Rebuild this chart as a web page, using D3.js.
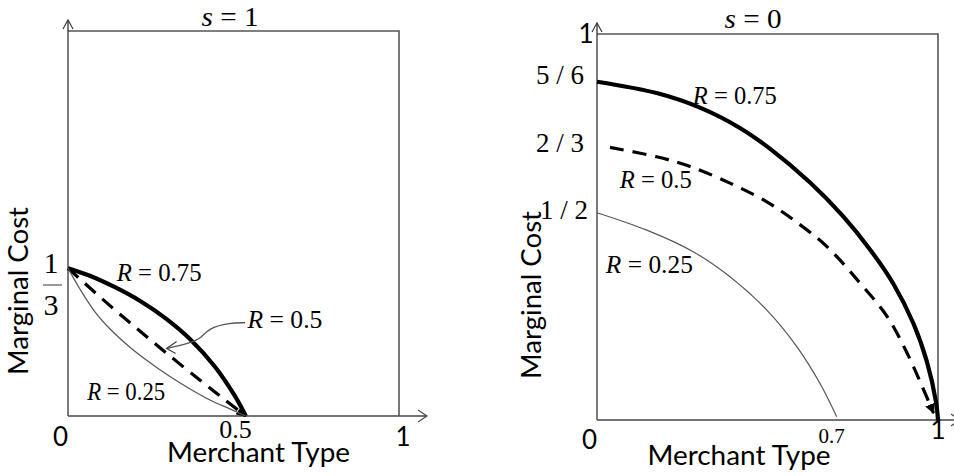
<!DOCTYPE html>
<html>
<head>
<meta charset="utf-8">
<script src="https://cdn.jsdelivr.net/npm/d3@7"></script>
<style>
  html, body { margin: 0; padding: 0; background: #fff; }
  svg { display: block; }
  .sans { font-family: Lato, "Open Sans", "Noto Sans", sans-serif; fill: #000; }
  .serif { font-family: "Liberation Serif", "DejaVu Serif", serif; fill: #000; }
</style>
</head>
<body>
<svg id="chart" width="954" height="476"></svg>
<script>
// ---------------- DATA ----------------
const rValues = ["0.75", "0.5", "0.25"];

// Panel s = 1 : [merchant type, marginal cost]
const left_R075 = [[0,0.333],[0.066,0.316],[0.142,0.290],[0.218,0.259],[0.293,0.221],[0.369,0.173],[0.444,0.111],[0.505,0.044],[0.537,0.0]];
const left_R050 = [[0,0.333],[0.1,0.266],[0.2,0.202],[0.3,0.140],[0.4,0.080],[0.47,0.039],[0.537,0.0]];
const left_R025 = [[0,0.333],[0.036,0.286],[0.082,0.234],[0.127,0.196],[0.187,0.155],[0.248,0.120],[0.308,0.089],[0.369,0.061],[0.429,0.036],[0.489,0.016],[0.537,0.0]];

// Panel s = 0
const right_R075 = [[0,0.834],[0.175,0.806],[0.302,0.770],[0.419,0.720],[0.507,0.669],[0.624,0.586],[0.722,0.502],[0.801,0.420],[0.869,0.336],[0.928,0.238],[0.967,0.145],[0.994,0.045],[1.0,0.0]];
const right_R050 = [[0.038,0.672],[0.175,0.649],[0.273,0.625],[0.390,0.584],[0.498,0.538],[0.577,0.493],[0.675,0.427],[0.772,0.337],[0.851,0.255],[0.910,0.164],[0.958,0.074],[0.987,0.017]];
const right_R025 = [[0,0.511],[0.146,0.468],[0.282,0.415],[0.390,0.353],[0.498,0.271],[0.586,0.181],[0.654,0.090],[0.703,0.008]];

// Tick labels
const leftXTicks = [0, 0.5, 1];
const leftXTickLabels = ["0", "0.5", "1"];
const leftYTick = 1/3;                 // shown as fraction 1 over 3
const rightXTicks = [0, 0.7, 1];
const rightXTickLabels = ["0", "0.7", "1"];
const rightYTicks = [5/6, 2/3, 1/2];
const rightYTickLabels = ["5 / 6", "2 / 3", "1 / 2"];
const titles = ["1", "0"];            // s = 1, s = 0
const xTitle = "Merchant Type";
const yTitle = "Marginal Cost";

// annotation leader (data coords, left panel) for R = 0.5
const leaderPts = [[0.535,0.210],[0.489,0.210],[0.425,0.198],[0.404,0.176],[0.365,0.163],[0.298,0.152]];

// ---------------- DRAW ----------------
const svg = d3.select("#chart");

const defs = svg.append("defs");
defs.append("marker").attr("id","tri").attr("viewBox","0 0 10 10")
  .attr("refX",9).attr("refY",5).attr("markerWidth",3.2).attr("markerHeight",3.2)
  .attr("orient","auto").attr("markerUnits","strokeWidth")
  .append("path").attr("d","M0,0 L10,5 L0,10 z").attr("fill","#000");

// scales
const xL = d3.scaleLinear().domain([0,1]).range([68,399]);
const yL = d3.scaleLinear().domain([0,1]).range([416,-28]);
const xR = d3.scaleLinear().domain([0,1]).range([597,938]);
const yR = d3.scaleLinear().domain([0,1]).range([420,14.4]);

function frame(x0, x1, yTop, yBase, arrowTop, arrowRight) {
  const g = svg.append("g");
  g.append("path").attr("d", `M${x0},${yTop} H${x1} V${yBase}`)
    .attr("fill","none").attr("stroke","#555").attr("stroke-width",1.6);
  g.append("line").attr("x1",x0).attr("x2",x0).attr("y1",yBase).attr("y2",arrowTop)
    .attr("stroke","#333").attr("stroke-width",1.3);
  g.append("path").attr("d",`M${x0-5},${arrowTop+9} L${x0},${arrowTop} L${x0+5},${arrowTop+9}`)
    .attr("fill","none").attr("stroke","#333").attr("stroke-width",1.1);
  g.append("line").attr("x1",x0).attr("x2",arrowRight).attr("y1",yBase).attr("y2",yBase)
    .attr("stroke","#444").attr("stroke-width",1.4);
  g.append("path").attr("d",`M${arrowRight-9},${yBase-6} L${arrowRight},${yBase} L${arrowRight-9},${yBase+6}`)
    .attr("fill","none").attr("stroke","#444").attr("stroke-width",1.1);
}

frame(xL(0), xL(1), 31, 416, 20, 427);
frame(xR(0), xR(1), 34, 420, 23, 960);

function drawCurves(data, xs, ys) {
  const line = d3.line().x(d => xs(d[0])).y(d => ys(d[1])).curve(d3.curveCatmullRom.alpha(0.5));
  const styles = [
    {w:4.2, c:"#000", dash:null},
    {w:3.2, c:"#000", dash:"14,9"},
    {w:1.2, c:"#555", dash:null}
  ];
  data.forEach((arr, i) => {
    const p = svg.append("path").datum(arr).attr("d", line)
      .attr("fill","none").attr("stroke",styles[i].c).attr("stroke-width",styles[i].w)
      .attr("stroke-linecap","butt");
    if (styles[i].dash) { p.attr("stroke-dasharray", styles[i].dash).attr("marker-end","url(#tri)"); }
  });
}
drawCurves([left_R075, left_R050, left_R025], xL, yL);
drawCurves([right_R075, right_R050, right_R025], xR, yR);

// leader arrow for R = 0.5 (left)
const leaderLine = d3.line().x(d => xL(d[0])).y(d => yL(d[1])).curve(d3.curveBasis);
svg.append("path").datum(leaderPts).attr("d", leaderLine)
  .attr("fill","none").attr("stroke","#555").attr("stroke-width",1.3);
{
  const tip = leaderPts[leaderPts.length-1];
  const tx = xL(tip[0]), ty = yL(tip[1]);
  svg.append("path").attr("d",`M${tx+10},${ty-7} L${tx},${ty} L${tx+9},${ty+5}`)
    .attr("fill","none").attr("stroke","#444").attr("stroke-width",1.3);
}

// R labels
function rLabel(x, y, val, w) {
  const t = svg.append("text").attr("class","serif").attr("x",x).attr("y",y).attr("font-size",25)
    .attr("textLength", w).attr("lengthAdjust","spacingAndGlyphs");
  t.append("tspan").attr("font-style","italic").text("R");
  t.append("tspan").text(" = " + val);
}
rLabel(xL(0.147), yL(0.305), rValues[0], 85);
rLabel(xL(0.542), yL(0.198), rValues[1], 75);
rLabel(xL(0.058), yL(0.036), rValues[2], 78);
rLabel(xR(0.281), yR(0.778), rValues[0], 84);
rLabel(xR(0.067), yR(0.572), rValues[1], 72);
rLabel(xR(0.026), yR(0.362), rValues[2], 87);

// titles
function title(cx, y, val) {
  const t = svg.append("text").attr("class","serif").attr("x",cx - 28.5).attr("y",y)
    .attr("font-size",28).attr("textLength",57).attr("lengthAdjust","spacingAndGlyphs");
  t.append("tspan").attr("font-style","italic").text("s");
  t.append("tspan").text(" = " + val);
}
title(230, 26, titles[0]);
title(753, 28, titles[1]);

// left x ticks
leftXTicks.forEach((v, i) => {
  const serif = leftXTickLabels[i].includes(".");
  const t = svg.append("text").attr("class", serif ? "serif" : "sans")
    .attr("font-size", serif ? 26 : 26)
    .attr("y", serif ? 438 : 446)
    .text(leftXTickLabels[i]);
  if (i === 0) t.attr("x", xL(v)).attr("text-anchor","end");
  else if (i === leftXTicks.length-1) t.attr("x", xL(v)+4).attr("text-anchor","middle");
  else t.attr("x", xL(v)+2).attr("text-anchor","middle");
});

// left y tick: fraction 1/3
{
  const cy = yL(leftYTick);
  svg.append("text").attr("class","serif").attr("font-size",30).attr("text-anchor","middle")
    .attr("x",51).attr("y",cy+5).text("1");
  svg.append("line").attr("x1",43).attr("x2",62).attr("y1",cy+17).attr("y2",cy+17)
    .attr("stroke","#555").attr("stroke-width",1.2);
  svg.append("text").attr("class","serif").attr("font-size",30).attr("text-anchor","middle")
    .attr("x",51).attr("y",cy+47).text("3");
}

// right x ticks
rightXTicks.forEach((v, i) => {
  const serif = rightXTickLabels[i].includes(".");
  const t = svg.append("text").attr("class", serif ? "serif" : "sans")
    .attr("font-size", serif ? 21 : 26)
    .text(rightXTickLabels[i]);
  if (i === 0) t.attr("x", xR(v)).attr("y", 449).attr("text-anchor","end");
  else if (serif) t.attr("x", xR(v)-4).attr("y", 443).attr("text-anchor","middle");
  else t.attr("x", xR(v)).attr("y", 439).attr("text-anchor","middle");
});

// right y ticks
rightYTicks.forEach((v, i) => {
  svg.append("text").attr("class","serif").attr("font-size",27).attr("text-anchor","end")
    .attr("x", i === 2 ? 588 : 584).attr("y", yR(v) + 2).text(rightYTickLabels[i]);
});
// top "1" at frame top
svg.append("text").attr("class","sans").attr("font-size",26).attr("text-anchor","middle")
  .attr("x",586).attr("y",43).text("1");

// axis titles
function xAxisTitle(cx, y) {
  svg.append("text").attr("class","sans").attr("font-size",26).attr("text-anchor","middle")
    .attr("x",cx).attr("y",y).attr("textLength",183).attr("lengthAdjust","spacingAndGlyphs")
    .text(xTitle);
}
xAxisTitle(258.5, 462);
xAxisTitle(739, 465);

function yAxisTitle(bx, cy) {
  svg.append("text").attr("class","sans").attr("font-size",26).attr("text-anchor","middle")
    .attr("transform",`translate(${bx},${cy}) rotate(-90)`)
    .attr("textLength",168).attr("lengthAdjust","spacingAndGlyphs")
    .text(yTitle);
}
yAxisTitle(28, 291);
yAxisTitle(541, 295);
</script>
</body>
</html>
